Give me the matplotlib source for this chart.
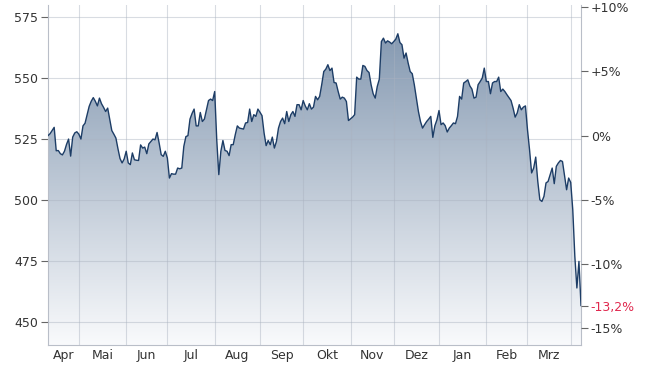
import matplotlib
matplotlib.use("Agg")
import matplotlib.pyplot as plt
import numpy as np
import pandas as pd
from matplotlib.colors import LinearSegmentedColormap

# Schlusskurse, ein Wert pro Handelstag (ab 10.04.2024)
prices = [
    526.4, 527.2, 528.5, 529.8, 520.2, 520.3, 519.0, 518.5, 520.0, 522.8,
    525.0, 518.0, 525.8, 527.5, 528.0, 527.0, 525.0, 530.4, 531.5, 535.0,
    538.4, 540.5, 542.0, 540.5, 538.6, 541.8, 539.5, 538.0, 536.3, 537.7,
    533.0, 528.5, 527.0, 525.4, 521.0, 517.0, 515.2, 516.8, 520.0, 515.2,
    514.5, 519.3, 516.5, 516.3, 516.2, 522.6, 521.3, 521.7, 519.0, 523.0,
    524.0, 525.0, 524.7, 527.7, 523.4, 518.6, 517.9, 520.0, 517.2, 509.0,
    510.8, 510.6, 510.6, 513.1, 512.8, 513.1, 522.0, 526.0, 526.4, 533.2,
    535.5, 537.3, 530.4, 530.4, 535.9, 532.2, 533.2, 537.0, 540.8, 541.4,
    540.8, 544.5, 524.7, 510.4, 520.0, 524.4, 520.3, 520.0, 518.2, 522.7,
    522.7, 526.8, 530.4, 529.5, 529.3, 529.1, 531.6, 531.8, 537.3, 532.2,
    535.0, 534.3, 537.3, 536.0, 534.6, 527.5, 522.3, 524.4, 522.7, 525.8,
    521.3, 524.0, 529.5, 532.2, 533.6, 531.3, 536.3, 532.2, 535.0, 536.3,
    534.3, 539.1, 539.1, 537.0, 540.8, 538.6, 537.0, 539.5, 537.3, 538.1,
    542.5, 541.1, 542.5, 547.3, 552.7, 553.7, 555.5, 553.1, 554.1, 548.2,
    548.0, 544.5, 541.4, 542.2, 541.8, 540.4, 532.6, 533.3, 534.0, 535.0,
    550.4, 549.6, 549.6, 555.2, 554.8, 553.1, 552.3, 547.3, 543.6, 541.8,
    546.6, 549.6, 565.0, 566.4, 564.4, 565.3, 564.8, 564.1, 565.0, 566.0,
    568.2, 564.6, 563.7, 558.2, 560.3, 556.2, 552.7, 551.8, 547.3, 541.8,
    536.3, 532.2, 529.5, 530.9, 532.2, 533.2, 534.3, 525.7, 530.5, 532.9,
    536.7, 530.9, 531.6, 530.5, 527.9, 529.5, 530.5, 531.6, 531.3, 534.3,
    542.5, 541.4, 548.0, 548.6, 549.3, 546.8, 545.5, 541.8, 542.2, 547.3,
    548.6, 550.0, 554.1, 548.6, 548.6, 543.6, 548.0, 548.6, 548.6, 550.4,
    544.5, 545.5, 544.5, 543.2, 542.0, 540.8, 537.7, 534.0, 535.7, 539.1,
    537.0, 538.1, 538.6, 528.8, 520.6, 511.1, 513.1, 517.6, 507.6, 500.1,
    499.4, 501.5, 507.0, 507.6, 510.4, 513.1, 506.7, 513.8, 515.2, 516.2,
    515.8, 510.0, 504.2, 509.0, 507.2, 496.0, 476.9, 463.9, 474.8, 456.7,
]
start_date = "2024-04-10"
month_names = ["Jan", "Feb", "Mrz", "Apr", "Mai", "Jun",
               "Jul", "Aug", "Sep", "Okt", "Nov", "Dez"]
y_ticks = [450, 475, 500, 525, 550, 575]
pct_ticks = [10, 5, 0, -5, -10, -15]

dates = pd.bdate_range(start_date, periods=len(prices))
x = np.arange(len(prices))
y = np.array(prices)
ymin, ymax = 440.5, 580.0
xmax = len(prices) - 1

fig = plt.figure(figsize=(6.5, 3.7), dpi=100)
ax = fig.add_axes([48 / 650, 1 - 345 / 370, 533 / 650, 340 / 370])
ax.set_xlim(0, xmax)
ax.set_ylim(ymin, ymax)

# Verlauf unter der Kurve
cmap = LinearSegmentedColormap.from_list("fl", ["#f9fafc", "#7b91ab"])
grad = np.linspace(0, 1, 256).reshape(-1, 1)
poly = ax.fill_between(x, y, ymin, color="none", lw=0)
img = ax.imshow(grad, extent=[0, xmax, ymin, ymax], origin="lower",
                aspect="auto", cmap=cmap, zorder=1)
img.set_clip_path(poly.get_paths()[0], transform=ax.transData)
ax.plot(x, y, color="#1d3d66", lw=1.0, zorder=4)

# Monatsanfaenge
month_key = dates.year * 12 + dates.month
starts = [0] + [i for i in range(1, len(dates)) if month_key[i] != month_key[i - 1]]
for s in starts[1:]:
    ax.axvline(s, color="#aab2c0", lw=0.8, alpha=0.45, zorder=3)
bounds = starts + [xmax]
for k in range(len(starts)):
    a, b = bounds[k], bounds[k + 1]
    if b - a < 10:
        continue
    ax.text((a + b) / 2, ymin - 1.5, month_names[dates[starts[k]].month - 1],
            ha="center", va="top", fontsize=9, color="#333333")

for t in y_ticks:
    ax.axhline(t, color="#aab2c0", lw=0.8, alpha=0.45, zorder=3)

ax.set_xticks([])
ax.set_yticks(y_ticks)
ax.tick_params(axis="y", length=5, width=0.8, color="#666666",
               labelsize=9, labelcolor="#333333", pad=2)
for side in ["left", "bottom", "right"]:
    ax.spines[side].set_color("#b9bec8")
ax.spines["top"].set_visible(False)

# Prozentachse rechts
base = prices[0]
ax2 = ax.twinx()
ax2.set_ylim(ymin, ymax)
last_pct = (prices[-1] / base - 1) * 100
ticks2 = [base * (1 + p / 100) for p in pct_ticks] + [prices[-1]]
labels2 = [("+%d%%" % p if p > 0 else "%d%%" % p) for p in pct_ticks]
labels2.append(("%.1f%%" % last_pct).replace(".", ","))
ax2.set_yticks(ticks2)
ax2.set_yticklabels(labels2)
ax2.tick_params(axis="y", length=5, width=0.8, color="#666666",
                labelsize=9, labelcolor="#333333", pad=2)
ax2.get_yticklabels()[-1].set_color("#e0294f")
for side in ["left", "bottom", "top", "right"]:
    ax2.spines[side].set_visible(False)

fig.savefig("out.png", dpi=100)
